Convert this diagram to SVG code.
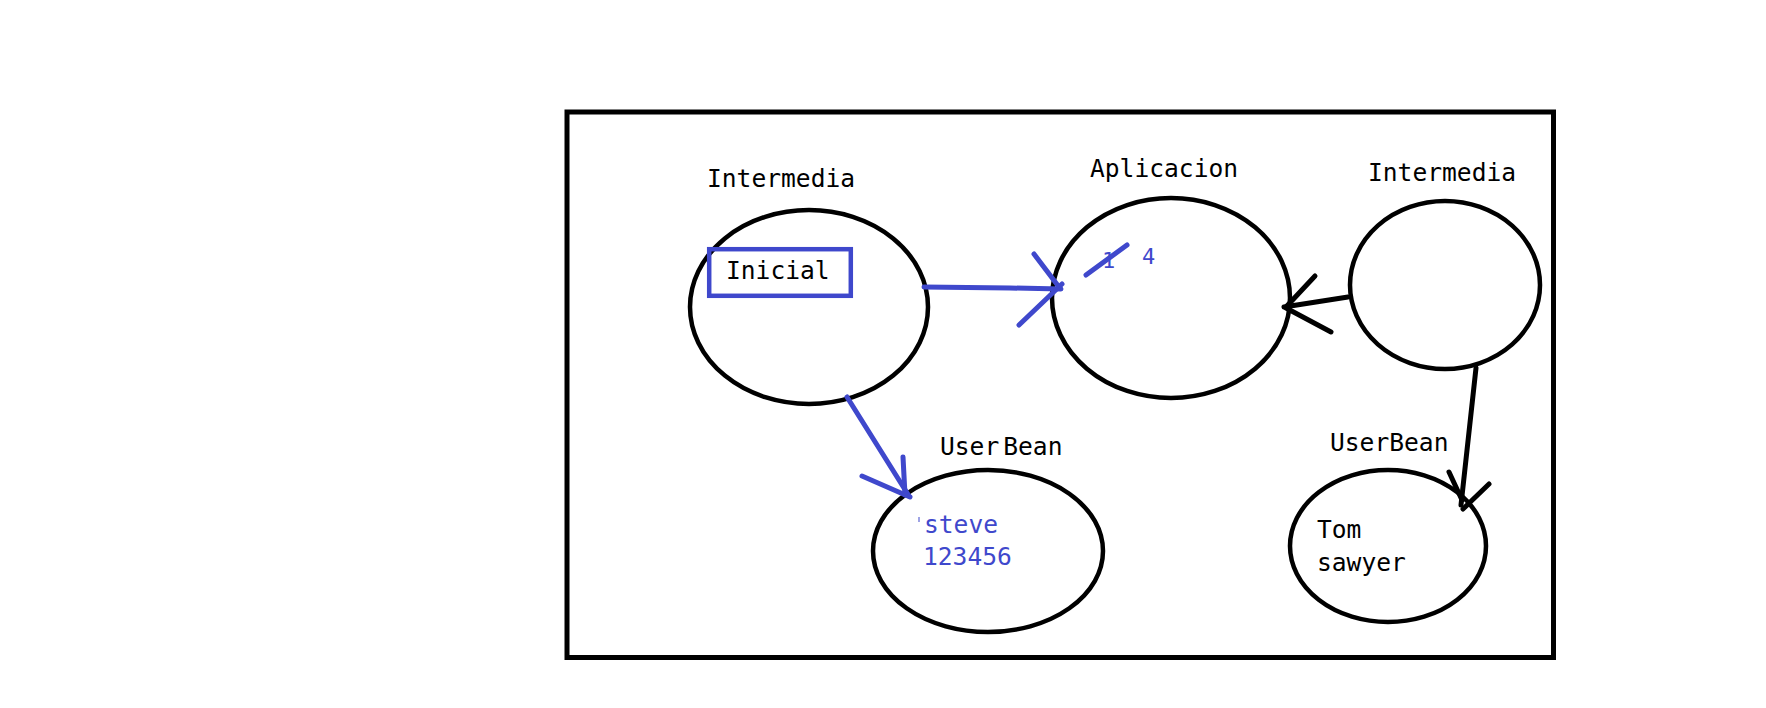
<svg xmlns="http://www.w3.org/2000/svg" width="1766" height="708" viewBox="0 0 1766 708">
<style>
.bg{fill:#fff}
.frame{fill:none;stroke:#000;stroke-width:5}
.node{fill:none;stroke:#000;stroke-width:4.5}
.lbl{font-family:"DejaVu Sans Mono","Liberation Mono",monospace;font-size:24.6px;fill:#000}
.num{font-size:22px}
.blue{fill:#3F48CC}
.bl{stroke:#3F48CC;stroke-width:5;stroke-linecap:round;fill:none}
.bk{stroke:#000;stroke-width:5;stroke-linecap:round;fill:none}
</style>
<rect class="bg" x="0" y="0" width="1766" height="708"/>
<rect class="frame" x="567" y="112" width="986.5" height="545.5"/>

<g id="intermedia-left">
<text class="lbl" x="707" y="187">Intermedia</text>
<ellipse class="node" cx="809" cy="307" rx="119" ry="97"/>
<rect x="709.2" y="249.2" width="141.6" height="46.6" fill="none" stroke="#3F48CC" stroke-width="4.5"/>
<text class="lbl" x="726" y="279">Inicial</text>
</g>

<g id="aplicacion">
<text class="lbl" x="1090" y="177">Aplicacion</text>
<ellipse class="node" cx="1171" cy="298" rx="119" ry="100"/>
<text class="lbl blue num" x="1102" y="268">1</text>
<text class="lbl blue num" x="1142" y="264">4</text>
<line class="bl" x1="1086" y1="275" x2="1127" y2="245"/>
</g>

<g id="intermedia-right">
<text class="lbl" x="1368" y="181">Intermedia</text>
<ellipse class="node" cx="1445" cy="285" rx="95" ry="84"/>
</g>

<g id="userbean-left">
<text class="lbl" x="940" y="455">User<tspan dx="4">Bean</tspan></text>
<ellipse class="node" cx="988" cy="551" rx="115" ry="81"/>
<rect x="918.5" y="517" width="1" height="5" fill="#3F48CC"/>
<text class="lbl blue" x="924" y="533">steve</text>
<text class="lbl blue" x="923" y="565">123456</text>
</g>

<g id="userbean-right">
<text class="lbl" x="1330" y="451">UserBean</text>
<ellipse class="node" cx="1388" cy="546" rx="98" ry="76"/>
<text class="lbl" x="1317" y="538">Tom</text>
<text class="lbl" x="1317" y="571">sawyer</text>
</g>

<g id="connectors">
<polyline class="bl" points="924,287 1010,288 1061,289"/>
<line class="bl" x1="1034" y1="254" x2="1059" y2="287"/>
<line class="bl" x1="1019" y1="325" x2="1062" y2="284"/>

<line class="bl" x1="847" y1="397" x2="909" y2="496"/>
<line class="bl" x1="862" y1="476" x2="910" y2="497"/>
<line class="bl" x1="903" y1="457" x2="905" y2="495"/>

<line class="bk" x1="1348" y1="297" x2="1284" y2="307"/>
<line class="bk" x1="1315" y1="276" x2="1286" y2="307"/>
<line class="bk" x1="1331" y1="332" x2="1286" y2="308"/>

<line class="bk" x1="1476" y1="368" x2="1461" y2="505"/>
<line class="bk" x1="1449" y1="472" x2="1462" y2="500"/>
<line class="bk" x1="1489" y1="484" x2="1463" y2="509"/>
</g>
</svg>
